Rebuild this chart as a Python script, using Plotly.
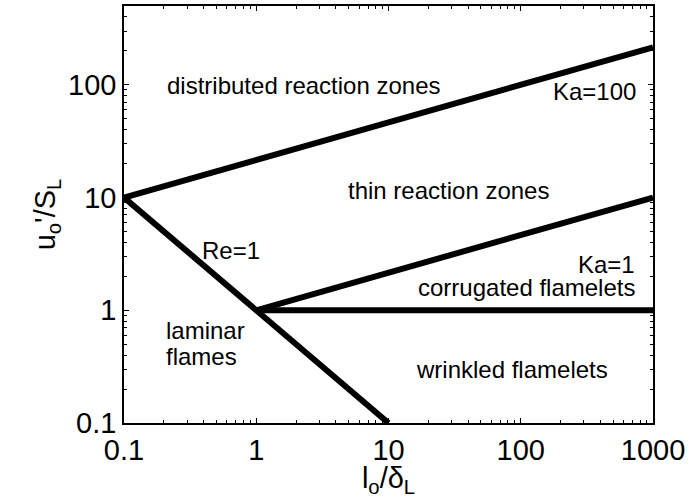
import numpy as np
import plotly.graph_objects as go

# Regime boundaries (Borghi diagram)
ka100_x = [0.1, 1000]
ka100_y = [10, 215]
ka1_x = [1, 1000]
ka1_y = [1, 10]
re1_x = [0.1, 10]
re1_y = [10, 0.1]
unity_x = [1, 1000]
unity_y = [1, 1]

x_ticks = [0.1, 1, 10, 100, 1000]
x_tick_text = ["0.1", "1", "10", "100", "1000"]
y_ticks = [0.1, 1, 10, 100]
y_tick_text = ["0.1", "1", "10", "100"]

labels = ["distributed reaction zones", "Ka=100", "thin reaction zones", "Ka=1",
          "corrugated flamelets", "wrinkled flamelets", "Re=1", "laminar", "flames"]
label_x = [0.204, 771, 28.2, 757, 757, 473, 0.644, 0.2, 0.2]
label_y = [98, 87, 11.6, 2.55, 1.58, 0.30, 3.37, 0.662, 0.391]
label_anchor = ["left", "right", "center", "right", "right", "right", "center", "left", "left"]

FONT = "Liberation Sans, Arial, Helvetica, sans-serif"

fig = go.Figure()
for xs, ys in [(ka100_x, ka100_y), (ka1_x, ka1_y), (re1_x, re1_y), (unity_x, unity_y)]:
    fig.add_trace(go.Scatter(x=xs, y=ys, mode="lines",
                             line=dict(color="black", width=6),
                             showlegend=False, hoverinfo="skip", cliponaxis=True))

for t, xv, yv, a in zip(labels, label_x, label_y, label_anchor):
    fig.add_annotation(x=np.log10(xv), y=np.log10(yv), text=t, showarrow=False,
                       xanchor=a, yanchor="middle",
                       font=dict(family=FONT, size=24, color="black"))

def minor_vals(lo, hi):
    out = []
    for d in range(lo, hi):
        for m in range(2, 10):
            out.append(m * 10.0 ** d)
    return out

fig.update_xaxes(type="log", range=[-1, 3], tickvals=x_ticks, ticktext=x_tick_text,
                 ticks="inside", ticklen=5, tickwidth=1, tickcolor="black",
                 showline=True, linecolor="black", linewidth=1.5, mirror="ticks",
                 showgrid=False, zeroline=False,
                 minor=dict(tickvals=minor_vals(-1, 3), ticks="inside", ticklen=3,
                            tickcolor="black", showgrid=False),
                 tickfont=dict(family=FONT, size=29, color="black"),
                 title=dict(text="l<sub>o</sub>/δ<sub>L</sub>", standoff=1,
                            font=dict(family=FONT, size=29, color="black")))
fig.update_yaxes(type="log", range=[-1, np.log10(500)], tickvals=y_ticks, ticktext=y_tick_text,
                 ticks="inside", ticklen=5, tickwidth=1, tickcolor="black",
                 showline=True, linecolor="black", linewidth=1.5, mirror="ticks",
                 showgrid=False, zeroline=False,
                 minor=dict(tickvals=minor_vals(-1, 3), ticks="inside", ticklen=3,
                            tickcolor="black", showgrid=False),
                 tickfont=dict(family=FONT, size=29, color="black"),
                 title=dict(text="u<sub>o</sub>'/S<sub>L</sub>", standoff=4,
                            font=dict(family=FONT, size=29, color="black")))

fig.update_layout(width=690, height=498, margin=dict(l=124, r=37, t=4, b=75),
                  paper_bgcolor="white", plot_bgcolor="white")
fig.write_html("out.html", config={"displayModeBar": False},
               post_script="document.body.style.margin='0px';")
